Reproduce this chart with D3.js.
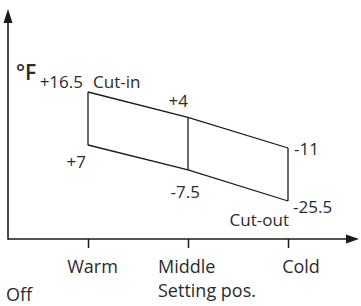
<!DOCTYPE html>
<html>
<head>
<meta charset="utf-8">
<script src="https://cdn.jsdelivr.net/npm/d3@7"></script>
<style>
  body { margin: 0; background: #fff; }
  text { font-family: "Open Sans", sans-serif; fill: #2b2b2b; }
</style>
</head>
<body>
<div id="chart"></div>
<script>
// setting positions and the thermostat temperatures (°F)
var positions = ["Warm", "Middle", "Cold"];
var cutIn = [16.5, 4, -11];
var cutOut = [7, -7.5, -25.5];
var cutInLabels = ["+16.5", "+4", "-11"];
var cutOutLabels = ["+7", "-7.5", "-25.5"];

function init() {
  var w = 361, h = 306;
  var originX = 8, originY = 239;

  var svg = d3.select("#chart")
    .append("svg")
    .attr("width", w)
    .attr("height", h);

  // x: setting dial, y: schematic temperature scale per line
  var xScale = d3.scalePoint()
    .domain(positions)
    .range([88, 288]);

  var yIn = d3.scaleLinear()
    .domain([cutIn[0], cutIn[2]])
    .range([92, 148]);

  var yOut = d3.scaleLinear()
    .domain([cutOut[0], cutOut[2]])
    .range([145, 201]);

  var pts = positions.map(function(p, i) {
    return { pos: p, tin: cutIn[i], tout: cutOut[i] };
  });

  // outline of the band
  var lineIn = d3.line()
    .x(function(d) { return xScale(d.pos); })
    .y(function(d) { return yIn(d.tin); });
  var lineOut = d3.line()
    .x(function(d) { return xScale(d.pos); })
    .y(function(d) { return yOut(d.tout); });

  svg.append("path")
    .datum(pts)
    .attr("fill", "none")
    .attr("stroke", "#1a1a1a")
    .attr("stroke-width", 1.3)
    .attr("d", lineIn);

  svg.append("path")
    .datum(pts)
    .attr("fill", "none")
    .attr("stroke", "#1a1a1a")
    .attr("stroke-width", 1.3)
    .attr("d", lineOut);

  svg.selectAll("line.vert")
    .data(pts)
    .enter()
    .append("line")
    .attr("class", "vert")
    .attr("x1", function(d) { return xScale(d.pos); })
    .attr("x2", function(d) { return xScale(d.pos); })
    .attr("y1", function(d) { return yIn(d.tin); })
    .attr("y2", function(d) { return yOut(d.tout); })
    .attr("stroke", "#1a1a1a")
    .attr("stroke-width", 1.3);

  // value labels
  var inOff = [{dx: -5, dy: -4, a: "end"}, {dx: 0, dy: -10, a: "end"}, {dx: 6, dy: 7, a: "start"}];
  var outOff = [{dx: -2, dy: 23, a: "end"}, {dx: 12, dy: 28, a: "end"}, {dx: 5, dy: 12, a: "start"}];

  svg.selectAll("text.cin")
    .data(pts)
    .enter()
    .append("text")
    .attr("class", "cin")
    .attr("x", function(d, i) { return xScale(d.pos) + inOff[i].dx; })
    .attr("y", function(d, i) { return yIn(d.tin) + inOff[i].dy; })
    .attr("text-anchor", function(d, i) { return inOff[i].a; })
    .style("font-size", "17px")
    .text(function(d, i) { return cutInLabels[i]; });

  svg.selectAll("text.cout")
    .data(pts)
    .enter()
    .append("text")
    .attr("class", "cout")
    .attr("x", function(d, i) { return xScale(d.pos) + outOff[i].dx; })
    .attr("y", function(d, i) { return yOut(d.tout) + outOff[i].dy; })
    .attr("text-anchor", function(d, i) { return outOff[i].a; })
    .style("font-size", "17px")
    .text(function(d, i) { return cutOutLabels[i]; });

  svg.append("text")
    .attr("x", xScale("Warm") + 5)
    .attr("y", yIn(cutIn[0]) - 4)
    .style("font-size", "17px")
    .text("Cut-in");

  svg.append("text")
    .attr("x", xScale("Cold") + 1)
    .attr("y", yOut(cutOut[2]) + 25)
    .attr("text-anchor", "end")
    .style("font-size", "17px")
    .text("Cut-out");

  // axes
  var xAxis = d3.axisBottom(xScale)
    .tickSize(9)
    .tickFormat("");
  var gx = svg.append("g")
    .attr("transform", "translate(0," + originY + ")")
    .call(xAxis);
  gx.select(".domain").remove();
  gx.selectAll("line").attr("stroke", "#1a1a1a").attr("stroke-width", 1.5);

  svg.append("line")
    .attr("x1", originX).attr("y1", originY)
    .attr("x2", 348).attr("y2", originY)
    .attr("stroke", "#1a1a1a").attr("stroke-width", 1.6);
  svg.append("path")
    .attr("d", "M359," + originY + "L346," + (originY - 4.5) + "L346," + (originY + 4.5) + "Z")
    .attr("fill", "#1a1a1a");

  svg.append("line")
    .attr("x1", originX).attr("y1", originY + 0.8)
    .attr("x2", originX).attr("y2", 20)
    .attr("stroke", "#1a1a1a").attr("stroke-width", 1.6);
  svg.append("path")
    .attr("d", "M" + originX + ",9L" + (originX - 4.5) + ",23L" + (originX + 4.5) + ",23Z")
    .attr("fill", "#1a1a1a");

  // tick labels
  var tickDx = [4.5, -30, 13];
  svg.selectAll("text.tick")
    .data(positions)
    .enter()
    .append("text")
    .attr("class", "tick")
    .attr("x", function(d, i) { return xScale(d) + tickDx[i]; })
    .attr("y", 273)
    .attr("text-anchor", function(d, i) { return i === 1 ? "start" : "middle"; })
    .style("font-size", "18px")
    .text(function(d) { return d; });

  svg.append("text")
    .attr("x", xScale("Middle") - 30)
    .attr("y", 297)
    .style("font-size", "18px")
    .text("Setting pos.");

  svg.append("text")
    .attr("x", 6)
    .attr("y", 301)
    .style("font-size", "18px")
    .text("Off");

  svg.append("text")
    .attr("x", 16)
    .attr("y", 80)
    .style("font-size", "21px")
    .style("font-weight", "600")
    .text("°F");
}

window.onload = init;
</script>
</body>
</html>
